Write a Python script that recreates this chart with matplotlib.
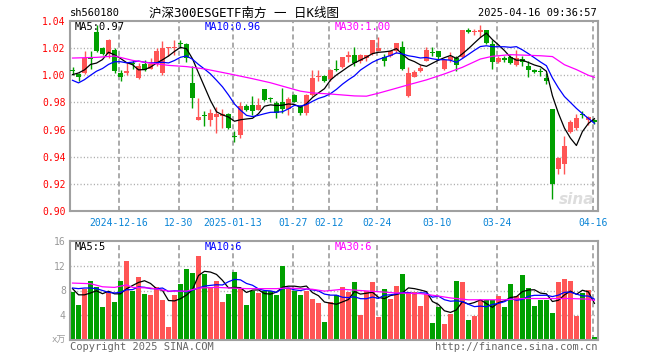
import numpy as np
import pandas as pd
import matplotlib
matplotlib.use('Agg')
import matplotlib.pyplot as plt

# ---------------- data ----------------
holidays = ['2025-01-01', '2025-01-28', '2025-01-29', '2025-01-30', '2025-01-31',
            '2025-02-03', '2025-02-04', '2025-04-04']
dates = [d.strftime('%Y-%m-%d') for d in pd.bdate_range('2024-12-04', '2025-04-16')
         if d.strftime('%Y-%m-%d') not in holidays]

open_ = [1.004, 1.001, 1.002, 1.013, 1.032, 1.020, 1.016, 1.019, 1.002, 1.002,
         1.009, 0.998, 1.008, 1.005, 1.008, 1.002, 1.020, 1.020, 1.0235, 1.023,
         0.994, 0.967, 0.971, 0.967, 0.9694, 0.970, 0.9716, 0.955, 0.956, 0.9775,
         0.978, 0.9745, 0.990, 0.983, 0.9797, 0.980, 0.975, 0.9853, 0.9767, 0.9723,
         0.9853, 0.999, 0.9993, 0.997, 1.0042, 1.006, 1.0132, 1.0147, 1.0103, 1.0127,
         1.0157, 1.0176, 1.0132, 1.014, 1.018, 1.0208, 0.985, 0.9985, 1.003, 1.0108,
         1.017, 1.0176, 1.0049, 1.0115, 1.0127, 1.0132, 1.0336, 1.032, 1.0318, 1.0335,
         1.023, 1.0098, 1.0127, 1.0132, 1.0073, 1.0122, 1.0066, 1.0042, 1.003, 0.998,
         0.9755, 0.9307, 0.9344, 0.9584, 0.9608, 0.9712, 0.9674, 0.9667]
high = [1.006, 1.002, 1.018, 1.018, 1.037, 1.021, 1.027, 1.020, 1.004, 1.010,
        1.011, 1.009, 1.011, 1.013, 1.020, 1.025, 1.021, 1.026, 1.026, 1.024,
        1.007, 0.983, 0.9735, 0.975, 0.9765, 0.975, 0.972, 0.9589, 0.980, 0.979,
        0.985, 0.983, 0.990, 0.984, 0.981, 0.991, 0.9843, 0.9863, 0.978, 0.9863,
        1.004, 1.004, 1.0005, 1.005, 1.011, 1.0135, 1.0176, 1.0205, 1.0157, 1.0147,
        1.0262, 1.028, 1.0157, 1.019, 1.0237, 1.025, 1.006, 1.004, 1.0073, 1.0206,
        1.0206, 1.0176, 1.0115, 1.0171, 1.014, 1.0335, 1.035, 1.034, 1.037, 1.0335,
        1.0262, 1.014, 1.0144, 1.0152, 1.0184, 1.014, 1.0103, 1.0047, 1.0054, 1.0017,
        0.9755, 0.9398, 0.9552, 0.9674, 0.9716, 0.9736, 0.9699, 0.968]
low = [1.000, 0.996, 1.001, 1.005, 1.017, 1.015, 1.013, 1.002, 0.996, 1.000,
       1.005, 0.997, 1.003, 1.005, 1.007, 1.000, 1.014, 1.015, 1.020, 1.010,
       0.976, 0.967, 0.963, 0.963, 0.9577, 0.961, 0.9606, 0.951, 0.954, 0.974,
       0.971, 0.9745, 0.981, 0.980, 0.9687, 0.9723, 0.971, 0.980, 0.971, 0.971,
       0.985, 0.9956, 0.995, 0.9956, 1.0035, 1.0055, 1.0098, 1.0066, 1.009, 1.0103,
       1.0152, 1.0176, 1.0071, 1.0132, 1.0164, 1.0042, 0.9843, 0.9985, 1.0022, 1.0103,
       1.0144, 1.0115, 1.0042, 1.0098, 1.003, 1.0125, 1.0315, 1.0295, 1.0284, 1.023,
       1.005, 1.009, 1.0098, 1.0083, 1.0066, 1.0066, 0.9985, 1.0017, 0.9993, 0.9936,
       0.9087, 0.9275, 0.9275, 0.9577, 0.960, 0.9682, 0.9633, 0.964]
close = [1.003, 0.999, 1.013, 1.012, 1.018, 1.016, 1.026, 1.003, 0.999, 1.003,
         1.008, 1.007, 1.004, 1.008, 1.018, 1.020, 1.021, 1.021, 1.0228, 1.013,
         0.983, 0.969, 0.970, 0.972, 0.9716, 0.9716, 0.961, 0.9545, 0.9775, 0.9745,
         0.974, 0.978, 0.982, 0.9825, 0.9723, 0.975, 0.9826, 0.980, 0.9723, 0.9853,
         0.998, 0.9995, 0.9956, 1.004, 1.004, 1.0132, 1.0152, 1.009, 1.0147, 1.0147,
         1.0262, 1.020, 1.0108, 1.0176, 1.0237, 1.0049, 1.002, 1.0022, 1.0054, 1.0184,
         1.0165, 1.0132, 1.0115, 1.0132, 1.0078, 1.0335, 1.032, 1.0325, 1.0335, 1.0237,
         1.0098, 1.0127, 1.0115, 1.009, 1.0127, 1.0098, 1.0042, 1.0022, 1.0027, 0.996,
         0.9197, 0.9393, 0.9479, 0.9657, 0.9687, 0.9709, 0.9694, 0.9655]
volume = [7.8, 5.7, 8.2, 9.5, 8.6, 5.4, 7.7, 6.1, 9.5, 12.7,
          8.0, 10.2, 7.5, 7.3, 8.5, 6.5, 2.1, 7.2, 9.1, 11.4,
          10.9, 13.5, 10.6, 8.5, 9.5, 6.1, 7.4, 11.0, 8.3, 5.6,
          8.0, 7.6, 8.0, 7.9, 7.2, 12.0, 8.4, 8.0, 7.2, 8.0,
          6.7, 5.9, 2.9, 6.2, 7.2, 8.6, 7.8, 9.4, 4.1, 7.9,
          9.4, 3.7, 8.3, 6.6, 8.8, 10.7, 7.7, 7.7, 5.5, 7.5,
          2.7, 5.3, 2.6, 4.2, 9.5, 9.4, 3.3, 3.9, 6.4, 6.4,
          6.4, 7.1, 5.3, 9.1, 7.1, 10.5, 8.4, 5.5, 6.4, 6.5,
          4.3, 9.4, 9.8, 9.5, 3.9, 7.6, 8.1, 0.5]

# moving-average values read at the left edge (earlier history not shown)
ma5_head = [1.0005, 1.0017, 1.004, 1.008]
ma10_head = [0.9963, 0.9944, 0.9968, 1.000, 1.003, 1.005, 1.008, 1.010, 1.010]
ma30_idx = [0, 4, 7, 10, 13, 16, 19, 22, 26, 30, 33, 35, 38, 40, 43, 47, 49, 51,
            54, 56, 59, 62, 65, 68, 70, 73, 78, 80, 82, 84, 86, 87]
ma30_val = [1.0127, 1.0132, 1.0142, 1.0110, 1.0090, 1.0073, 1.0064, 1.0047, 1.0012, 0.9975,
            0.9945, 0.9920, 0.9883, 0.9870, 0.9862, 0.9848, 0.9846, 0.9868,
            0.9905, 0.9930, 0.9966, 1.0010, 1.0059, 1.0120, 1.0140, 1.0152, 1.0144, 1.0138,
            1.0078, 1.0042, 1.0000, 0.9985]

vma5_head = [8.3, 7.3, 7.3, 7.6]
vma10_head = [8.4, 8.3, 8.4, 8.4, 8.3, 8.0, 7.7, 7.6, 7.7]
vma30_idx = [0, 3, 5, 7, 9, 10, 13, 16, 19, 21, 24, 29, 34, 36, 40, 42, 45, 48, 51,
             54, 58, 61, 63, 66, 72, 75, 80, 83, 86, 87]
vma30_val = [9.2, 9.1, 8.6, 8.5, 8.9, 8.5, 8.4, 7.9, 7.9, 8.4, 8.5, 8.3, 8.3, 8.4, 8.2,
             7.9, 8.2, 8.0, 7.8, 7.6, 7.5, 7.1, 6.8, 6.5, 6.5, 6.7, 6.7, 6.7, 6.6, 6.4]

tick_dates = ['2024-12-16', '2024-12-30', '2025-01-13', '2025-01-27', '2025-02-12',
              '2025-02-24', '2025-03-10', '2025-03-24', '2025-04-16']
tick_labels = ['2024-12-16', '12-30', '2025-01-13', '01-27', '02-12',
               '02-24', '03-10', '03-24', '04-16']
price_ticks = [0.90, 0.92, 0.94, 0.96, 0.98, 1.00, 1.02, 1.04]
vol_ticks = [4, 8, 12, 16]

# ---------------- derived ----------------
n = len(dates)
x = np.arange(n)
o = np.array(open_); h = np.array(high); l = np.array(low); c = np.array(close)
v = np.array(volume)
up = c >= o
RED = '#FF5555'
GREEN = '#00A000'
cols = [RED if u else GREEN for u in up]

def ma(arr, k, head):
    s = pd.Series(arr).rolling(k).mean().to_numpy()
    s[:len(head)] = head
    return s

ma5 = ma(c, 5, ma5_head)
ma10 = ma(c, 10, ma10_head)
vma5 = ma(v, 5, vma5_head)
vma10 = ma(v, 10, vma10_head)

tick_x = [dates.index(d) - 0.3 for d in tick_dates]

W, H = 660, 360
fig = plt.figure(figsize=(6.6, 3.6), dpi=100, facecolor='white')
MONO = ['DejaVu Sans Mono', 'Noto Sans CJK SC']
GRID = '#AAAAAA'
BORDER = '#A0A0A0'

def fx(px):
    return px / W

def fy(py):
    return 1 - py / H

ax = fig.add_axes([fx(70), fy(211), fx(598) - fx(70), fy(21) - fy(211)])
axv = fig.add_axes([fx(70), fy(340), fx(598) - fx(70), fy(241) - fy(340)])

xlim = (-0.42, 87.6)
for a in (ax, axv):
    a.set_xlim(*xlim)
    a.set_facecolor('white')
    for s in a.spines.values():
        s.set_color(BORDER)
        s.set_linewidth(1.5)
    a.tick_params(length=0)
    for tx in tick_x:
        a.axvline(tx, color=GRID, lw=1.4, dashes=(2.6, 1.6), zorder=0)

# main chart
ax.set_ylim(0.90, 1.04)
for p in price_ticks[1:-1]:
    ax.axhline(p, color=GRID, lw=1.0, dashes=(0.8, 1.6), zorder=0)
ax.set_yticks(price_ticks)
ax.set_yticklabels(['%.2f' % p for p in price_ticks], color='red',
                   fontsize=7, family=MONO)
ax.tick_params(axis='y', pad=3)
ax.set_xticks(tick_x)
ax.set_xticklabels(tick_labels, color='#0A84D6', fontsize=7, family=MONO)
ax.tick_params(axis='x', pad=5)

body_h = np.maximum(np.abs(c - o), 0.0008)
body_b = np.minimum(o, c)
ax.vlines(x, l, h, colors=cols, lw=1.0, zorder=2)
ax.bar(x, body_h, bottom=body_b, width=0.8, color=cols, lw=0, zorder=3)
ax.plot(x, ma5, color='black', lw=0.9, zorder=4)
ax.plot(x, ma10, color='#0000FF', lw=0.9, zorder=4)
ax.plot(ma30_idx, ma30_val, color='#FF00FF', lw=0.9, zorder=4)

# volume chart
axv.set_ylim(0, 16)
for p in vol_ticks[:-1]:
    axv.axhline(p, color=GRID, lw=1.0, dashes=(0.8, 1.6), zorder=0)
axv.set_yticks(vol_ticks)
axv.set_yticklabels([str(t) for t in vol_ticks], color='#999999', fontsize=7, family=MONO)
axv.tick_params(axis='y', pad=3)
axv.set_xticks([])
axv.bar(x, v, width=0.83, color=cols, lw=0, zorder=2)
axv.plot(x, vma5, color='black', lw=0.9, zorder=4)
axv.plot(x, vma10, color='#0000FF', lw=0.9, zorder=4)
axv.plot(vma30_idx, vma30_val, color='#FF00FF', lw=0.9, zorder=4)

# texts
fig.text(fx(70), fy(13), 'sh560180', fontsize=7.5, family=MONO, va='center', ha='left')
fig.text(fx(244), fy(13), '沪深300ESGETF南方 一 日K线图', fontsize=9, family=MONO,
         va='center', ha='center')
fig.text(fx(597), fy(13), '2025-04-16 09:36:57', fontsize=7.5, family=MONO,
         va='center', ha='right')

leg_y = 27
fig.text(fx(75), fy(leg_y), 'MA5:%.2f' % ma5[-1], fontsize=7.5, family=MONO, va='center', color='black')
fig.text(fx(205), fy(leg_y), 'MA10:%.2f' % ma10[-1], fontsize=7.5, family=MONO, va='center', color='#0000FF')
fig.text(fx(335), fy(leg_y), 'MA30:%.2f' % ma30_val[-1], fontsize=7.5, family=MONO, va='center', color='#FF00FF')

vleg_y = 247
fig.text(fx(75), fy(vleg_y), 'MA5:%d' % int(vma5[-1]), fontsize=7.5, family=MONO, va='center', color='black')
fig.text(fx(205), fy(vleg_y), 'MA10:%d' % int(vma10[-1]), fontsize=7.5, family=MONO, va='center', color='#0000FF')
fig.text(fx(335), fy(vleg_y), 'MA30:%d' % int(vma30_val[-1]), fontsize=7.5, family=MONO, va='center', color='#FF00FF')

fig.text(fx(66), fy(340), 'x万', fontsize=6.5, family=MONO, va='center', ha='right', color='#999999')
fig.text(fx(70), fy(347), 'Copyright 2025 SINA.COM', fontsize=7.5, family=MONO,
         va='center', ha='left', color='#666666')
fig.text(fx(597), fy(347), 'http://finance.sina.com.cn', fontsize=7.5, family=MONO,
         va='center', ha='right', color='#666666')

fig.text(fx(594), fy(200), 'sina', fontsize=11, style='italic', weight='bold',
         color='#DDDDDD', ha='right', va='center', zorder=1)

fig.savefig('out.png', dpi=100, facecolor='white')
